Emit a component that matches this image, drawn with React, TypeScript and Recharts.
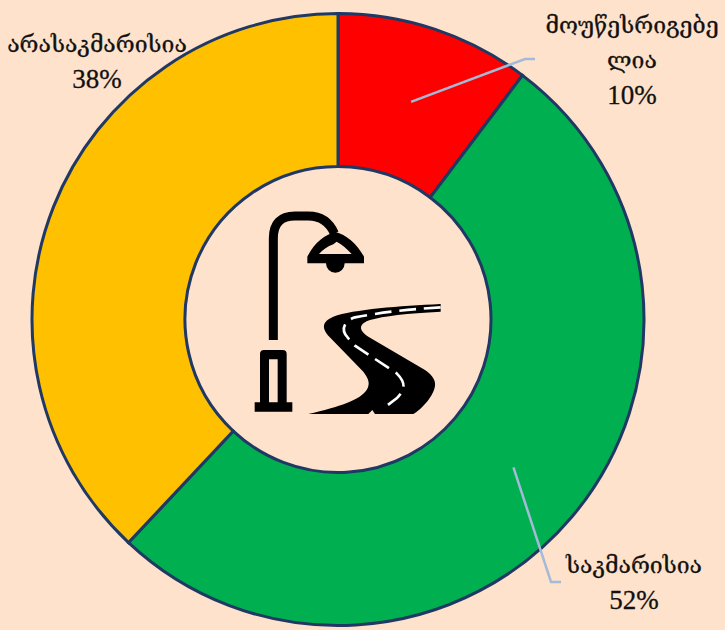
import React from "react";
import { PieChart, Pie, Cell } from "recharts";

const categories = ["მოუწესრიგებელია", "საკმარისია", "არასაკმარისია"];
const values = [10.3, 51.7, 38];
const colors = ["#FF0000", "#00B050", "#FFC000"];
// label text split over lines, the way the chart wraps them
const nameLines = [["მოუწესრიგებე", "ლია"], ["საკმარისია"], ["არასაკმარისია"]];

const data = categories.map((name, i) => ({ name, value: values[i] }));

const BG = "#FEE2CB";
const LEADER = "#A5B9D8";
const FONT = "'DejaVu Serif', serif";
const PCT_FONT = "'Liberation Serif', serif";

// where each label block sits and where its leader elbow goes
const labelPos = [
  { x: 632, y: 33, elbow: [525, 59], end: [535, 59] },
  { x: 634, y: 573, elbow: [551, 582], end: [561, 582] },
  { x: 97, y: 52, elbow: null, end: null },
];

const renderLabel = (props: any) => {
  const { cx, cy, midAngle, innerRadius, outerRadius, index } = props;
  const pos = labelPos[index];
  const r = (innerRadius + outerRadius) / 2;
  const rad = (-midAngle * Math.PI) / 180;
  const sx = cx + r * Math.cos(rad);
  const sy = cy + r * Math.sin(rad);
  const names = nameLines[index];
  return (
    <g>
      {pos.elbow && (
        <polyline
          points={`${sx},${sy} ${pos.elbow[0]},${pos.elbow[1]} ${pos.end![0]},${pos.end![1]}`}
          fill="none"
          stroke={LEADER}
          strokeWidth={2.5}
        />
      )}
      {names.map((line, i) => (
        <text
          key={line}
          x={pos.x}
          y={pos.y + i * 35}
          textAnchor="middle"
          fontFamily={FONT}
          fontSize={23}
          fill="#111"
          stroke="#111"
          strokeWidth={0.3}
        >
          {line}
        </text>
      ))}
      <text
        x={pos.x}
        y={pos.y + names.length * 35 + 1}
        textAnchor="middle"
        fontFamily={PCT_FONT}
        fontSize={27}
        fill="#111"
        stroke="#111"
        strokeWidth={0.3}
      >
        {`${Math.round(values[index])}%`}
      </text>
    </g>
  );
};

// lamp and road pictogram in the middle of the ring
const Icon = () => (
  <svg
    width={210}
    height={220}
    viewBox="0 0 630 660"
    style={{ position: "absolute", left: 240, top: 200 }}
  >
    <path
      d="M100 420 V115 Q100 48 165 48 H205 Q260 48 283 100"
      fill="none"
      stroke="#000"
      strokeWidth={27}
    />
    <path
      fillRule="evenodd"
      d="M202 190 V170 C225 125 255 105 285 95 C320 105 350 130 372 170 V190 H314 A28 28 0 0 1 258 190 Z M237 162 H335 C320 145 305 133 290 125 L280 133 C262 140 250 148 237 162 Z"
      fill="#000"
    />
    <path
      fillRule="evenodd"
      d="M60 607 V462 Q60 450 72 450 H128 Q140 450 140 462 V607 H157 V635 H44 V607 Z M87 478 V607 H113 V478 Z"
      fill="#000"
    />
    <path
      d="M205 642 C300 620 360 600 380 570 C392 550 385 535 370 515 L268 410 C245 385 245 365 280 350 C340 328 480 318 602 312 V335 C500 340 430 348 390 360 C355 372 355 390 385 410 L555 510 C590 535 592 555 575 585 C560 610 540 630 520 642 H405 L397 630 L385 642 Z"
      fill="#000"
    />
    <path
      d="M602 322 C500 328 420 338 345 352 C305 365 305 395 325 415 L345 437 L470 520 C500 550 495 570 470 595 L430 625"
      fill="none"
      stroke="#fff"
      strokeWidth={8}
      strokeDasharray="50 24"
    />
  </svg>
);

export default function App() {
  return (
    <div style={{ position: "absolute", left: 0, top: 0, width: 725, height: 630, background: BG, overflow: "hidden" }}>
      <PieChart width={725} height={630} margin={{ top: 0, right: 0, bottom: 0, left: 0 }}>
        <Pie
          data={data}
          dataKey="value"
          nameKey="name"
          cx={338}
          cy={319.5}
          innerRadius={153}
          outerRadius={306}
          startAngle={90}
          endAngle={-270}
          stroke="#1F3864"
          strokeWidth={3}
          label={renderLabel}
          labelLine={false}
          isAnimationActive={false}
        >
          {data.map((d, i) => (
            <Cell key={d.name} fill={colors[i]} />
          ))}
        </Pie>
      </PieChart>
      <Icon />
    </div>
  );
}
